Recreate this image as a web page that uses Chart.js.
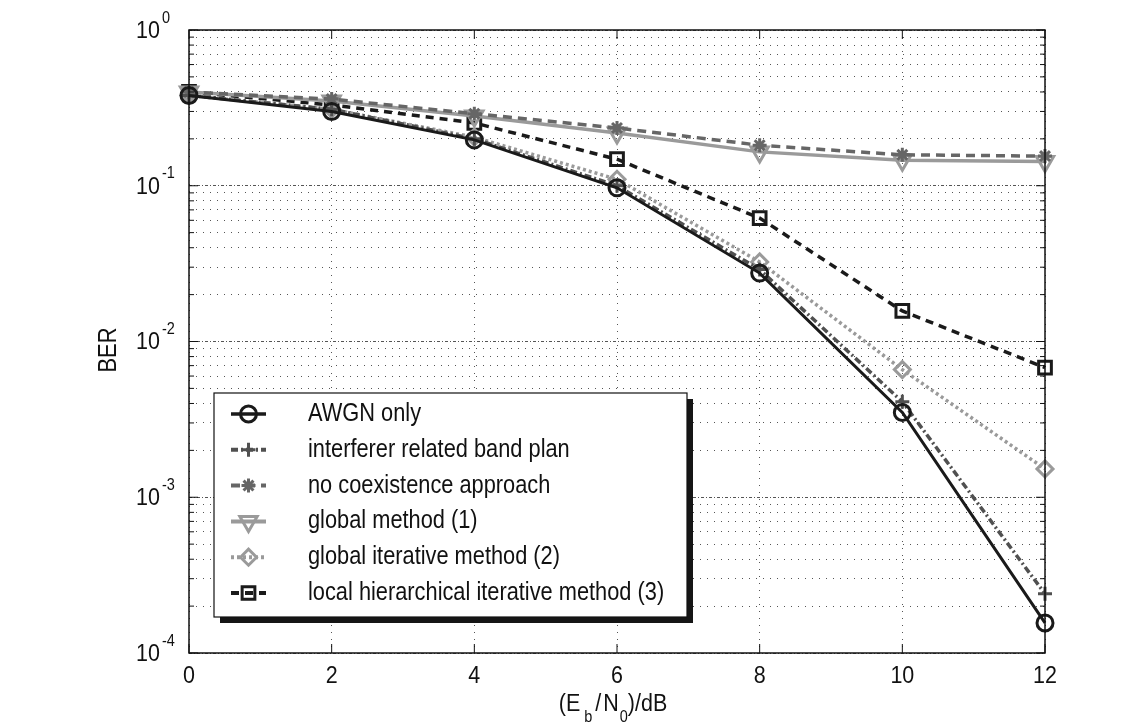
<!DOCTYPE html>
<html>
<head>
<meta charset="utf-8">
<script src="https://cdn.jsdelivr.net/npm/chart.js@4.4.1/dist/chart.umd.min.js"></script>
<style>
  html, body { margin: 0; padding: 0; background: #fff; }
</style>
</head>
<body>
<canvas id="berChart" width="1140" height="727"></canvas>
<script>
// Eb/N0 in dB and BER values
const snrDb = [0, 2, 4, 6, 8, 10, 12];
const awgnOnly = [0.38, 0.30, 0.197, 0.097, 0.0275, 0.0035, 0.000156];
const interfererBandPlan = [0.38, 0.31, 0.20, 0.10, 0.029, 0.0041, 0.00024];
const noCoexistence = [0.40, 0.36, 0.29, 0.235, 0.182, 0.158, 0.155];
const globalMethod = [0.40, 0.35, 0.28, 0.218, 0.165, 0.146, 0.143];
const globalIterative = [0.38, 0.31, 0.205, 0.11, 0.0324, 0.0066, 0.00152];
const localHierarchical = [0.40, 0.33, 0.253, 0.148, 0.062, 0.0157, 0.0068];
const seriesNames = [
  "AWGN only",
  "interferer related band plan",
  "no coexistence approach",
  "global method (1)",
  "global iterative method (2)",
  "local hierarchical iterative method (3)"
];
const xTicks = [0, 2, 4, 6, 8, 10, 12];
const yDecades = [-4, -3, -2, -1, 0];

const FONT = '"Liberation Sans", Arial, sans-serif';
const STRETCH = 1.15;

function pts(arr) {
  return snrDb.map((x, i) => ({ x: x, y: arr[i] }));
}

function txt(ctx, s, x, y, size, align) {
  ctx.save();
  ctx.font = size + "px " + FONT;
  ctx.textAlign = align || "left";
  ctx.textBaseline = "middle";
  ctx.fillStyle = "#111";
  ctx.translate(x, y);
  ctx.scale(1, STRETCH);
  ctx.fillText(s, 0, 0);
  ctx.restore();
}

function textWidth(ctx, s, size) {
  ctx.save();
  ctx.font = size + "px " + FONT;
  const w = ctx.measureText(s).width;
  ctx.restore();
  return w;
}

function isDecade(v) {
  const l = Math.log10(v);
  return Math.abs(l - Math.round(l)) < 1e-9;
}

const none = "rgba(0,0,0,0)";

function series(i, data, color, width, dash, style, radius, rotation) {
  return {
    label: seriesNames[i],
    data: pts(data),
    borderColor: color,
    borderWidth: width,
    borderDash: dash,
    pointStyle: style,
    pointRadius: radius,
    pointRotation: rotation || 0,
    pointBorderColor: color,
    pointBorderWidth: 3,
    pointBackgroundColor: none,
    tension: 0,
    clip: false
  };
}

const datasets = [
  series(0, awgnOnly, "#1a1a1a", 3, [], "circle", 8),
  series(1, interfererBandPlan, "#505050", 3.5, [7, 3, 2, 3], "cross", 7),
  series(2, noCoexistence, "#666666", 3.5, [9, 6], "star", 7),
  series(3, globalMethod, "#9a9a9a", 3.5, [], "triangle", 10, 180),
  series(4, globalIterative, "#9a9a9a", 3.5, [3, 3], "rectRot", 8),
  series(5, localHierarchical, "#1a1a1a", 3.5, [8, 6], "rect", 9)
];

const decor = {
  id: "decor",
  afterDraw(chart) {
    const ctx = chart.ctx;
    const a = chart.chartArea;
    const xs = chart.scales.x;
    const ys = chart.scales.y;

    // box + inward ticks
    ctx.save();
    ctx.strokeStyle = "#111";
    ctx.lineWidth = 1.5;
    ctx.setLineDash([]);
    ctx.strokeRect(a.left, a.top, a.right - a.left, a.bottom - a.top);
    ctx.lineWidth = 1;
    ctx.beginPath();
    ys.ticks.forEach(t => {
      const y = ys.getPixelForValue(t.value);
      const len = isDecade(t.value) ? 9 : 5;
      ctx.moveTo(a.left, y); ctx.lineTo(a.left + len, y);
      ctx.moveTo(a.right, y); ctx.lineTo(a.right - len, y);
    });
    xTicks.forEach(v => {
      const x = xs.getPixelForValue(v);
      ctx.moveTo(x, a.bottom); ctx.lineTo(x, a.bottom - 9);
      ctx.moveTo(x, a.top); ctx.lineTo(x, a.top + 9);
    });
    ctx.stroke();
    ctx.restore();

    // y tick labels 10^e
    yDecades.forEach(e => {
      const y = ys.getPixelForValue(Math.pow(10, e));
      txt(ctx, "10", 160, y + 1, 21.5, "right");
      txt(ctx, String(e), 162, y - 12, 14.5, "left");
    });

    // x tick labels
    xTicks.forEach(v => {
      txt(ctx, String(v), xs.getPixelForValue(v), 676, 21.5, "center");
    });

    // x title: (E_b / N_0)/dB
    const pieces = [["(E", 21.5, 0, 0], ["b", 14.5, 4, 13], ["/", 21.5, 3, 0], ["N", 21.5, 2, 0], ["0", 14.5, 1, 13], [")/dB", 21.5, 0, 0]];
    let total = 0;
    pieces.forEach(p => { total += p[2] + textWidth(ctx, p[0], p[1]); });
    let px = 613 - total / 2;
    pieces.forEach(p => {
      px += p[2];
      txt(ctx, p[0], px, 704 + p[3], p[1], "left");
      px += textWidth(ctx, p[0], p[1]);
    });

    // y title
    ctx.save();
    ctx.translate(109, 350);
    ctx.rotate(-Math.PI / 2);
    txt(ctx, "BER", 0, 0, 22, "center");
    ctx.restore();

    // legend
    const lg = { x: 214, y: 393, w: 473, h: 224, row0: 414, dy: 35.8, l0: 231, l1: 266, tx: 308 };
    ctx.save();
    ctx.fillStyle = "#151515";
    ctx.fillRect(lg.x + 6, lg.y + 6, lg.w, lg.h);
    ctx.fillStyle = "#fff";
    ctx.fillRect(lg.x, lg.y, lg.w, lg.h);
    ctx.strokeStyle = "#111";
    ctx.lineWidth = 1.2;
    ctx.strokeRect(lg.x, lg.y, lg.w, lg.h);
    chart.data.datasets.forEach((ds, i) => {
      const y = lg.row0 + i * lg.dy;
      ctx.strokeStyle = ds.borderColor;
      ctx.lineWidth = ds.borderWidth + 0.5;
      ctx.setLineDash(ds.borderDash);
      ctx.beginPath();
      ctx.moveTo(lg.l0, y); ctx.lineTo(lg.l1, y);
      ctx.stroke();
      ctx.setLineDash([]);
      ctx.fillStyle = none;
      ctx.lineWidth = ds.pointBorderWidth;
      Chart.helpers.drawPoint(ctx, {
        pointStyle: ds.pointStyle,
        rotation: ds.pointRotation,
        radius: ds.pointRadius,
        borderWidth: ds.pointBorderWidth
      }, (lg.l0 + lg.l1) / 2, y);
      txt(ctx, ds.label, lg.tx, y, 21.8, "left");
    });
    ctx.restore();
  }
};

new Chart(document.getElementById("berChart").getContext("2d"), {
  type: "line",
  data: { datasets: datasets },
  options: {
    responsive: false,
    animation: false,
    devicePixelRatio: 1,
    layout: { padding: { left: 189, right: 95, top: 30, bottom: 74 } },
    plugins: { legend: { display: false }, tooltip: { enabled: false } },
    scales: {
      x: {
        type: "linear",
        min: 0,
        max: 12,
        afterBuildTicks: (scale) => { scale.ticks = xTicks.map(v => ({ value: v })); },
        ticks: { display: false },
        grid: { color: "#555", lineWidth: 1, drawTicks: false },
        border: { display: false, dash: [1, 6] }
      },
      y: {
        type: "logarithmic",
        min: 1e-4,
        max: 1,
        afterBuildTicks: (scale) => {
          const ticks = [];
          yDecades.forEach(e => {
            for (let m = 1; m <= 9; m++) {
              const v = m * Math.pow(10, e);
              if (v <= 1) ticks.push({ value: v, major: m === 1 });
            }
          });
          scale.ticks = ticks;
        },
        ticks: { display: false },
        grid: { color: "#555", lineWidth: 1, drawTicks: false },
        border: {
          display: false,
          dash: (c) => (c.tick && isDecade(c.tick.value)) ? [3, 2, 1, 2] : [1, 6]
        }
      }
    }
  },
  plugins: [decor]
});
</script>
</body>
</html>
